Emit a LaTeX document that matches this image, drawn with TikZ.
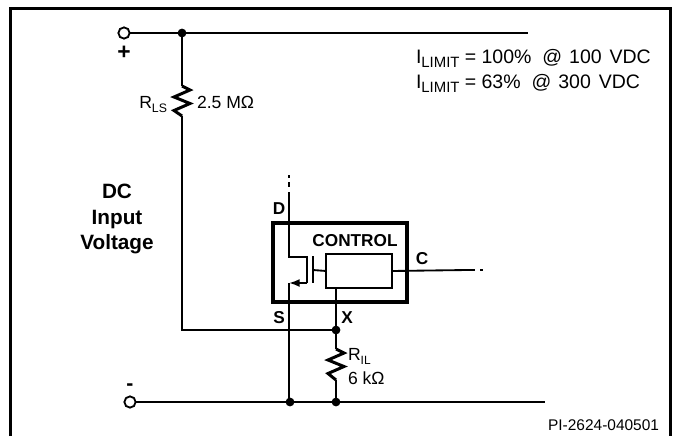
\documentclass[tikz,border=0pt]{standalone}
\usepackage{fontspec}
\setmainfont{Liberation Sans}
\usetikzlibrary{arrows.meta}
\newcommand{\lowtext}[2]{\raisebox{-2.8pt}{\fontsize{#1}{#1}\selectfont #2}}
\begin{document}
\begin{tikzpicture}[x=0.02cm, y=0.02cm]
    \tikzstyle{every node}+=[inner sep=0pt, outer sep=0pt]
    \tikzstyle{wire}=[black, line width=1.05pt, line join=miter]
    \tikzstyle{heavy}=[black, line width=2.5pt, line join=miter]
    \tikzstyle{resistor}=[black, line width=1.7pt, line join=miter, miter limit=3, to path={-- ++(8,-4) -- ++(-16,-7) -- ++(16,-6.5) -- ++(-16,-7) -- (\tikztotarget)}]
    \tikzstyle{terminal}=[circle, draw, fill=white, line width=1.05pt, minimum size=6.4pt]
    \tikzstyle{joint}=[circle, fill=black, minimum size=5pt]
    \tikzstyle{tinytext}=[font=\fontsize{8.8}{10}\selectfont, anchor=base east]
    \tikzstyle{plaintext}=[font=\fontsize{10}{12}\selectfont, anchor=base west]
    \tikzstyle{limittext}=[font=\fontsize{11.1}{13}\selectfont, anchor=base west]
    \tikzstyle{pintext}=[font=\fontsize{9.8}{11}\bfseries\selectfont]
    \useasboundingbox (0,0) rectangle (678,-436);
    \coordinate (frameA) at (10.5,-436);
    \coordinate (frameB) at (10.5,-8.5);
    \coordinate (frameC) at (670.5,-8.5);
    \coordinate (frameD) at (670.5,-436);
    \draw [black, line width=1.7pt, line join=miter] (frameA) -- (frameB) -- (frameC) -- (frameD);
    \node [terminal] (plusT) at (124,-33) {};
    \node [joint] (plusJ) at (182,-33) {};
    \coordinate (plusEnd) at (528,-33);
    \node [terminal] (minusT) at (130,-402) {};
    \node [joint] (srcJ) at (290,-402) {};
    \node [joint] (rilJ) at (336,-402) {};
    \coordinate (minusEnd) at (545,-402);
    \node [joint] (xJ) at (336,-330) {};
    \coordinate (rlsTop) at (182,-86);
    \coordinate (rlsBot) at (182,-116);
    \coordinate (rilTop) at (336,-349);
    \coordinate (rilBot) at (336,-380);
    \coordinate (rlsCorner) at (182,-330);
    \draw [wire] (plusT) -- (plusJ) -- (plusEnd);
    \draw [wire] (minusT) -- (srcJ) -- (rilJ) -- (minusEnd);
    \draw [wire] (plusJ) -- (rlsTop);
    \draw [resistor] (rlsTop) to (rlsBot);
    \draw [wire] (rlsBot) -- (rlsCorner) -- (xJ);
    \draw [wire] (xJ) -- (rilTop);
    \draw [resistor] (rilTop) to (rilBot);
    \draw [wire] (rilBot) -- (rilJ);
    \coordinate (ctrlA) at (273,-223);
    \coordinate (ctrlB) at (407,-302);
    \draw [heavy] (ctrlA) rectangle (ctrlB);
    \node [draw, wire, minimum width=37.4pt, minimum height=19.3pt] (logic) at (359,-271) {};
    \coordinate (drainDash) at (289,-175);
    \coordinate (drainTop) at (289,-192);
    \coordinate (drainIn) at (289,-257);
    \coordinate (drainOut) at (307,-257);
    \coordinate (srcOut) at (307,-283);
    \coordinate (srcIn) at (289,-283);
    \coordinate (srcFoot) at (289,-402);
    \coordinate (gateA) at (313,-256);
    \coordinate (gateB) at (313,-283);
    \coordinate (gateMid) at (313,-270);
    \coordinate (logicX) at (336,-288);
    \coordinate (cEnd) at (467,-270);
    \coordinate (cDash) at (483,-270);
    \draw [wire, dash pattern=on 1.7pt off 2.3pt on 3pt off 2.8pt] (drainDash) -- (drainTop);
    \draw [wire] (drainTop) -- (drainIn) -- (drainOut) -- (srcOut);
    \draw [wire, -{Latex[length=6pt,width=4.5pt]}] (srcOut) -- (srcIn);
    \draw [wire] (srcIn) -- (srcFoot);
    \draw [wire] (gateA) -- (gateB);
    \draw [wire] (gateMid) -- (logic.west);
    \draw [wire] (logicX) -- (xJ);
    \draw [wire] (logic.east) -- (cEnd);
    \draw [wire, dash pattern=on 0.1pt off 0.6pt on 4pt off 2.8pt on 2pt off 9pt] (cEnd) -- (cDash);
    \node [pintext, font=\fontsize{13}{14}\bfseries\selectfont] (plusL) at (124,-53) {+};
    \node [pintext, font=\fontsize{12}{14}\bfseries\selectfont] (minusL) at (130,-387) {-};
    \node [pintext] (drainL) at (279,-209) {D};
    \node [pintext] (srcL) at (279,-318) {S};
    \node [pintext] (xL) at (347,-318) {X};
    \node [pintext] (cL) at (422,-259) {C};
    \node [pintext] (ctrlL) at (355,-241) {CONTROL};
    \node [align=center, font=\fontsize{11.8}{14.7}\bfseries\selectfont] (inputL) at (117,-219) {DC\\Input\\Voltage};
    \node [plaintext, anchor=base east] (rlsL) at (167,-108) {R\lowtext{7}{LS}};
    \node [plaintext] (rlsV) at (197,-108) {2.5 MΩ};
    \node [plaintext] (rilL) at (348,-360) {R\lowtext{6.8}{IL}};
    \node [plaintext] (rilV) at (348,-384) {6 kΩ};
    \node [limittext] (limitA) at (416,-63) {I\lowtext{8.5}{LIMIT}\hspace{3pt}= 100\%\ \ @\hspace{4pt}100\hspace{4.5pt}VDC};
    \node [limittext] (limitB) at (416,-88) {I\lowtext{8.5}{LIMIT}\hspace{3pt}= 63\%\ \ @\hspace{4pt}300\hspace{4.5pt}VDC};
    \node [tinytext] (partL) at (659,-430) {PI-2624-040501};
\end{tikzpicture}
\end{document}
